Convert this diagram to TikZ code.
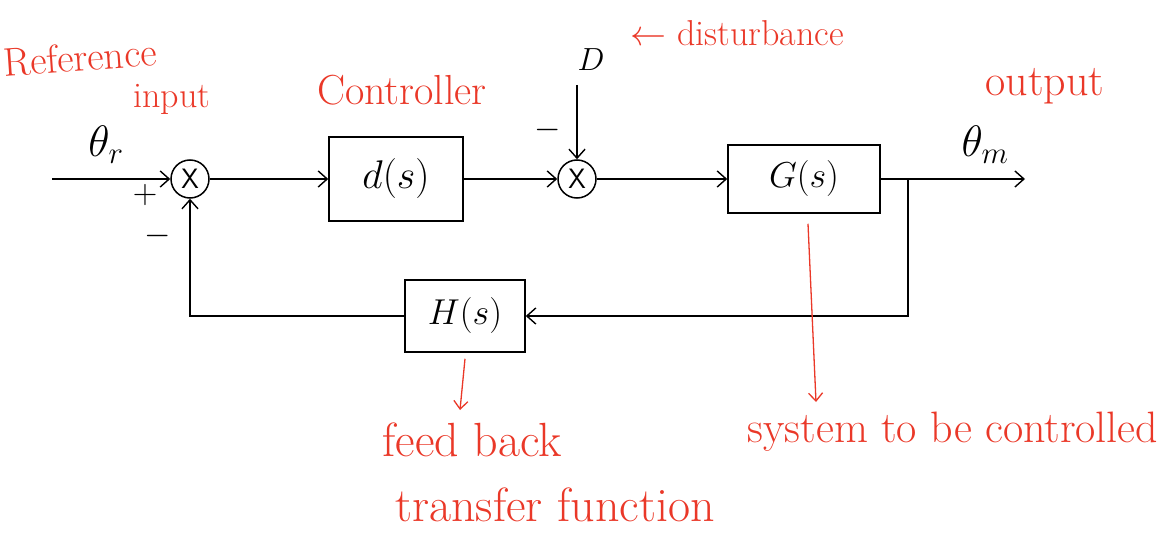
\RequirePackage{fix-cm}
\documentclass[tikz,border=0pt]{standalone}
\usepackage{fontspec}
\usetikzlibrary{arrows.meta}
\definecolor{notered}{RGB}{234,56,40}
\tikzset{
  wire/.style={line width=1.4pt, black},
  flow/.style={wire, -{Straight Barb[length=9pt,width=16pt,line width=1.4pt]}},
  blk/.style={draw, line width=1.5pt, inner sep=0pt, font=\fontsize{36}{40}\selectfont},
  junction/.style={draw, circle, line width=1.5pt, minimum size=38pt, inner sep=0pt, font=\fontsize{28}{30}\selectfont\sffamily},
  sym/.style={font=\fontsize{34}{38}\selectfont},
  note/.style={text=notered, inner sep=0pt, font=\fontsize{42}{46}\selectfont},
  pointer/.style={line width=1.3pt, notered, -{Straight Barb[length=8pt,width=14pt,line width=1.3pt]}}
}
\begin{document}
\begin{tikzpicture}[x=1pt,y=-1pt]
\useasboundingbox (0,0) rectangle (1170,548);

% blocks and summing junctions
\node[junction] (s1) at (190,179) {X};
\node[blk, minimum width=134pt, minimum height=84pt, font=\fontsize{40}{44}\selectfont] (C) at (396,179) {$d(s)$};
\node[junction] (s2) at (577,179) {X};
\node[blk, minimum width=152pt, minimum height=68pt] (G) at (804,179) {$G(s)$};
\node[blk, minimum width=120pt, minimum height=72pt] (H) at (465,316) {$H(s)$};

% signals
\coordinate (in) at (52,179);
\coordinate (out) at (1025,179);
\coordinate (br) at (908,179);
\coordinate (dtop) at (577,85);
\node[sym, font=\fontsize{44}{48}\selectfont] (thr) at (106,145) {$\theta_r$};
\node[sym, font=\fontsize{44}{48}\selectfont] (thm) at (985,145) {$\theta_m$};
\node[sym, font=\fontsize{32}{36}\selectfont] (D) at (591,60) {$D$};
\node[sym] (p1) at (145,195) {$+$};
\node[sym] (m1) at (158,236) {$-$};
\node[sym] (m2) at (548,130) {$-$};

\draw[flow] (in) -- (s1);
\draw[flow] (s1) -- (C);
\draw[flow] (C) -- (s2);
\draw[flow] (dtop) -- (s2);
\draw[flow] (s2) -- (G);
\draw[flow] (G) -- (out);
\draw[flow] (br) |- (H.east);
\draw[flow] (H.west) -| (s1.south);

% annotations
\node[note, rotate=4, font=\fontsize{40}{44}\selectfont] (ref) at (80,57) {Reference};
\node[note, font=\fontsize{36}{40}\selectfont] (inp) at (172,99) {input};
\node[note] (ctl) at (402,90) {Controller};
\node[note, font=\fontsize{36}{40}\selectfont] (dist) at (737,33) {$\leftarrow$ disturbance};
\node[note, font=\fontsize{44}{48}\selectfont] (outl) at (1045,86) {output};
\node[note, font=\fontsize{48}{52}\selectfont] (fb1) at (472,440) {feed back};
\node[note, font=\fontsize{48}{52}\selectfont] (fb2) at (555,505) {transfer function};
\node[note, font=\fontsize{44}{48}\selectfont] (sys) at (953,432) {system to be controlled};

\coordinate (hptr) at (460,410);
\coordinate (gptr) at (816,402);
\draw[pointer] ([yshift=-6pt]H.south) -- (hptr);
\draw[pointer] ([xshift=4pt,yshift=-10pt]G.south) -- (gptr);
\end{tikzpicture}
\end{document}
